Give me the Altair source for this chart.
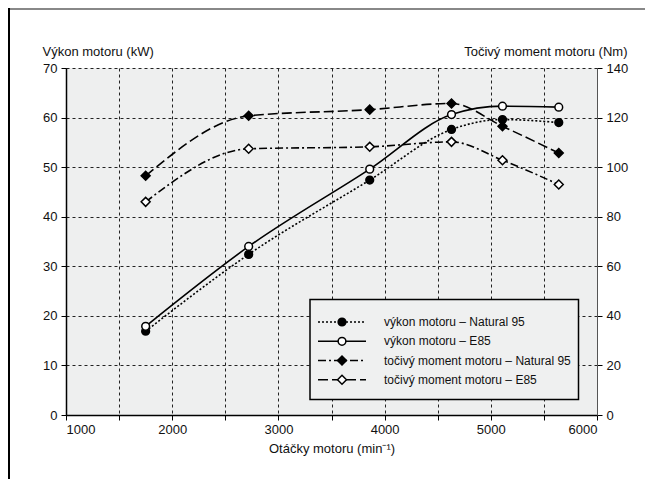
import altair as alt
import pandas as pd

# ---- data ----
rpm = [1750, 2720, 3860, 4630, 5110, 5640]
vykon_n95 = [16.9, 32.4, 47.4, 57.6, 59.6, 59.0]
vykon_e85 = [17.9, 34.0, 49.6, 60.6, 62.3, 62.1]
moment_n95 = [96.5, 120.7, 123.2, 125.7, 116.5, 105.7]
moment_e85 = [86.0, 107.4, 108.2, 110.2, 102.8, 93.0]

legend_labels = [
    "výkon motoru – Natural 95",
    "výkon motoru – E85",
    "točivý moment motoru – Natural 95",
    "točivý moment motoru – E85",
]

FONT = "Liberation Sans, Arial, sans-serif"
W, H = 531, 347

x_enc = alt.X(
    "rpm:Q",
    scale=alt.Scale(domain=[1000, 6000], nice=False),
    axis=alt.Axis(
        values=list(range(1000, 6001, 500)),
        labelExpr="datum.value % 1000 == 0 ? format(datum.value, 'd') : ''",
        grid=True, gridDash=[3, 3], gridColor="#222", gridWidth=1,
        tickSize=5, tickColor="#000", domainColor="#000", domainWidth=1.5,
        labelFont=FONT, labelFontSize=13, labelColor="#111", labelPadding=3,
        title="Otáčky motoru (min⁻¹)", titleFont=FONT, titleFontSize=13,
        titleFontWeight="normal", titleColor="#111", titleY=37,
        titleBaseline="alphabetic",
    ),
)

y_kw = alt.Y(
    "val:Q",
    scale=alt.Scale(domain=[0, 70], nice=False),
    axis=alt.Axis(
        values=list(range(0, 71, 10)), grid=True, gridDash=[3, 3],
        gridColor="#222", gridWidth=1, tickSize=5, tickColor="#000",
        domainColor="#000", domainWidth=1.5,
        labelFont=FONT, labelFontSize=13, labelColor="#111", labelPadding=4,
        title="Výkon motoru (kW)", titleFont=FONT, titleFontSize=13,
        titleFontWeight="normal", titleColor="#111", titleAngle=0,
        titleAlign="left", titleBaseline="alphabetic", titleX=-24, titleY=-13,
    ),
)

y_nm = alt.Y(
    "val:Q",
    scale=alt.Scale(domain=[0, 140], nice=False),
    axis=alt.Axis(
        orient="right", values=list(range(0, 141, 20)), grid=False,
        tickSize=5, tickColor="#000", domainColor="#555", domainWidth=1,
        labelFont=FONT, labelFontSize=13, labelColor="#111", labelPadding=4,
        title="Točivý moment motoru (Nm)", titleFont=FONT, titleFontSize=13,
        titleFontWeight="normal", titleColor="#111", titleAngle=0,
        titleAlign="right", titleBaseline="alphabetic", titleX=30, titleY=-13,
    ),
)


def frame(vals):
    return pd.DataFrame({"rpm": rpm, "val": vals})


def series(vals, y_enc, dash, shape, filled, size):
    df = frame(vals)
    line_kw = dict(color="#000", strokeWidth=1.6, interpolate="monotone")
    if dash:
        line_kw["strokeDash"] = dash
    line = alt.Chart(df).mark_line(**line_kw).encode(x=x_enc, y=y_enc)
    pts = alt.Chart(df).mark_point(
        shape=shape, filled=True, size=size,
        fill="#000" if filled else "#fff", stroke="#000", strokeWidth=1.5,
        opacity=1,
    ).encode(x=x_enc, y=y_enc)
    return [line, pts]


power = alt.layer(
    *series(vykon_n95, y_kw, [2, 2], "circle", True, 60),
    *series(vykon_e85, y_kw, None, "circle", False, 60),
)
torque = alt.layer(
    *series(moment_n95, y_nm, [10, 4], "diamond", True, 80),
    *series(moment_e85, y_nm, [8, 3, 2, 3], "diamond", False, 80),
)

# ---- manual legend (as drawn in the reference) ----
leg_styles = [
    ([2, 2], "circle", True, 60),
    (None, "circle", False, 60),
    ([8, 3, 2, 3], "diamond", True, 80),
    ([10, 4], "diamond", False, 80),
]
one = pd.DataFrame({"k": [0]})
legend_layers = [
    alt.Chart(one).mark_rect(fill="#eff0f0", stroke="#000", strokeWidth=1.5).encode(
        x=alt.value(244), x2=alt.value(512.5), y=alt.value(231.5), y2=alt.value(331.5)
    )
]
row_y = [254, 273.3, 292.5, 311.7]
for lab, (dash, shape, filled, size), yy in zip(legend_labels, leg_styles, row_y):
    rk = dict(color="#000", strokeWidth=1.6)
    if dash:
        rk["strokeDash"] = dash
    legend_layers.append(
        alt.Chart(one).mark_rule(**rk).encode(
            x=alt.value(252), x2=alt.value(300), y=alt.value(yy)
        )
    )
    legend_layers.append(
        alt.Chart(one).mark_point(
            shape=shape, filled=True, size=size,
            fill="#000" if filled else "#fff", stroke="#000", strokeWidth=1.5, opacity=1,
        ).encode(x=alt.value(276), y=alt.value(yy))
    )
    legend_layers.append(
        alt.Chart(pd.DataFrame({"t": [lab]})).mark_text(
            align="left", baseline="middle", font=FONT, fontSize=12, color="#111"
        ).encode(x=alt.value(318), y=alt.value(yy), text="t:N")
    )

# outer frame lines of the figure
frame_layers = [
    alt.Chart(one).mark_rule(color="#888", strokeWidth=2).encode(
        x=alt.value(-58), x2=alt.value(W + 48), y=alt.value(-59)
    ),
    alt.Chart(one).mark_rule(color="#000", strokeWidth=2).encode(
        x=alt.value(-57), y=alt.value(-60), y2=alt.value(H + 64)
    ),
]

chart = (
    alt.layer(power, torque, *legend_layers, *frame_layers)
    .resolve_scale(y="independent")
    .properties(
        width=W, height=H,
        padding={"left": 58, "top": 60, "right": 48, "bottom": 64},
        autosize=alt.AutoSizeParams(type="none"),
        background="#ffffff",
    )
    .configure_view(fill="#eeefef", strokeWidth=0)
)

chart.save("out.html", embed_options={"renderer": "svg", "actions": False})
